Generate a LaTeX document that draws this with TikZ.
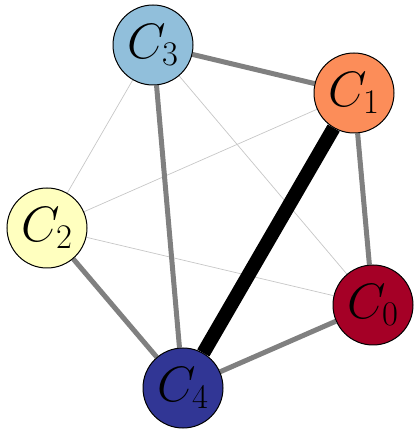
\documentclass[tikz,border=0pt]{standalone}
\usepackage{tikz}
\usetikzlibrary{backgrounds}

\definecolor{clzero}{HTML}{A50026}
\definecolor{clone}{HTML}{FC8D59}
\definecolor{cltwo}{HTML}{FFFFBF}
\definecolor{clthree}{HTML}{91BFDB}
\definecolor{clfour}{HTML}{313695}

\begin{document}
\begin{tikzpicture}[x=0.5pt,y=0.5pt,
cluster/.style={circle,draw=black,line width=0.5pt,minimum size=40pt,inner sep=0pt,font=\fontsize{24}{29}\selectfont},
strong/.style={gray,line width=2.5pt},
weak/.style={black!22,line width=0.35pt},
heavy/.style={black,line width=7pt}]

\useasboundingbox (0,0) rectangle (418,434);

\node[cluster,fill=clzero]  (c0) at (373,129) {$C_0$};
\node[cluster,fill=clone]   (c1) at (354,341) {$C_1$};
\node[cluster,fill=cltwo]   (c2) at (47,206)  {$C_2$};
\node[cluster,fill=clthree] (c3) at (153,389) {$C_3$};
\node[cluster,fill=clfour]  (c4) at (183,46)  {$C_4$};

\begin{pgfonlayer}{background}
	\draw[weak] (c3) -- (c2);
	\draw[weak] (c3) -- (c0);
	\draw[weak] (c2) -- (c1);
	\draw[weak] (c2) -- (c0);
	\draw[strong] (c3) -- (c1);
	\draw[strong] (c3) -- (c4);
	\draw[strong] (c1) -- (c0);
	\draw[strong] (c2) -- (c4);
	\draw[strong] (c0) -- (c4);
	\draw[heavy] (c1) -- (c4);
\end{pgfonlayer}
\end{tikzpicture}
\end{document}
